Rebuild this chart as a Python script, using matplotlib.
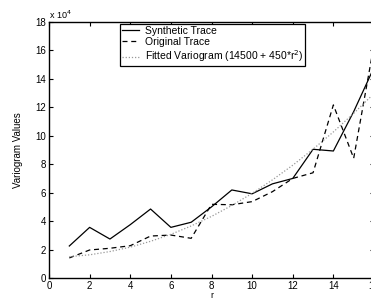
import matplotlib
matplotlib.use("Agg")
import matplotlib.pyplot as plt

plt.rcParams['font.family'] = ['Liberation Sans', 'DejaVu Sans']

# values in units of 10^4
r = list(range(1, 17))
synthetic = [2.25, 3.56, 2.74, 3.75, 4.85, 3.56, 3.92, 5.0, 6.19, 5.92, 6.62, 7.0, 9.05, 8.93, 11.7, 14.8]
original = [1.41, 1.97, 2.09, 2.27, 2.95, 3.02, 2.79, 5.18, 5.15, 5.37, 6.07, 7.0, 7.4, 12.17, 8.42, 16.4]
fitted = [1.5, 1.63, 1.86, 2.17, 2.58, 3.07, 3.66, 4.33, 5.1, 5.95, 6.9, 7.93, 9.06, 10.27, 11.58, 12.97]

labels = ['Synthetic Trace', 'Original Trace', 'Fitted Variogram (14500 + 450*r$^2$)']

fig = plt.figure(figsize=(3.71, 3.01), dpi=100)
ax = fig.add_axes([49/371, 23/301, 325/371, 256/301])

ax.plot(r, synthetic, color='black', lw=0.9, ls='-', label=labels[0])
ax.plot(r, original, color='black', lw=0.9, ls=(0, (4, 3)), label=labels[1])
ax.plot(r, fitted, color='#999999', lw=0.9, ls=(0, (1, 1.5)), label=labels[2])

ax.set_xlim(0, 16)
ax.set_ylim(0, 18)
ax.set_xticks(range(0, 17, 2))
ax.set_yticks(range(0, 19, 2))
ax.tick_params(direction='in', length=3, width=0.8, labelsize=7, pad=2,
               top=True, right=True)
for s in ax.spines.values():
    s.set_linewidth(1.0)

ax.set_xlabel('r', fontsize=6.5, labelpad=0.5)
ax.set_ylabel('Variogram Values', fontsize=7, labelpad=9)
ax.text(0.0, 1.005, 'x 10$^4$', transform=ax.transAxes, fontsize=6.5,
        ha='left', va='bottom')

leg = ax.legend(loc='upper left', bbox_to_anchor=(71/325, 0.993), fontsize=7.5,
                frameon=True, fancybox=False, edgecolor='black', framealpha=1,
                handlelength=1.6, handletextpad=0.6, borderpad=0.2,
                labelspacing=0.12, borderaxespad=0)
leg.get_frame().set_linewidth(0.9)

fig.savefig('out.png', dpi=100)
